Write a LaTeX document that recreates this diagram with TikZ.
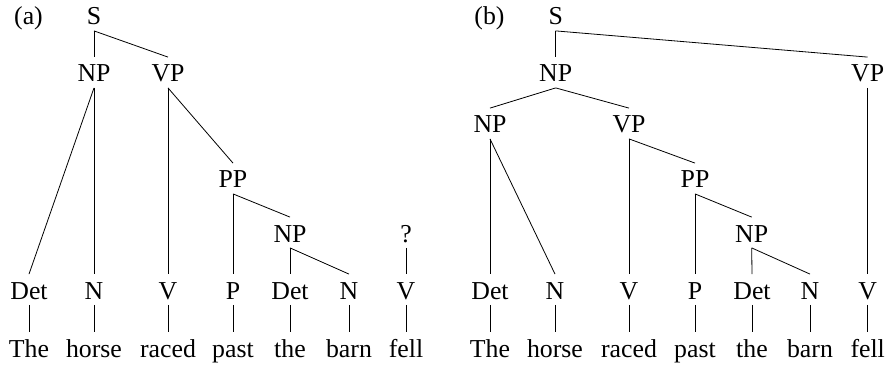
\documentclass[tikz,border=0pt]{standalone}
\usepackage{fontspec}
\setmainfont{Liberation Serif}
\usepackage{tikz}

\begin{document}
\begin{tikzpicture}[x=1pt,y=-1pt,line width=0.8pt,
  lab/.style={anchor=base,inner xsep=1pt,inner ysep=5.5pt,text height=19pt,text depth=0pt,
    font=\fontsize{25.8}{30}\selectfont}]
  \useasboundingbox (0,0) rectangle (886,366);
  % tree (a)
  \node[lab] (a-lbl) at (28.5,25) {(a)};
  \node[lab] (a-s) at (94,25) {S};
  \node[lab] (a-np) at (94,82) {NP};
  \node[lab] (a-vp) at (168,82) {VP};
  \node[lab] (a-pp) at (233,188) {PP};
  \node[lab] (a-np2) at (290,242) {NP};
  \node[lab] (a-q) at (406,242) {?};
  \foreach \x/\t/\w [count=\i] in {29/Det/The,94/N/horse,168/V/raced,233/P/past,290/Det/the,349/N/barn,406/V/fell}{
    \node[lab] (a-t\i) at (\x,299) {\t};
    \node[lab] (a-w\i) at (\x,357) {\w};
    \draw (a-t\i.south) -- (a-w\i.north);
  }
  \draw (a-s.south) -- (a-np.north); \draw (a-s.south) -- (a-vp.north);
  \draw (a-np.south) -- (a-t1.north); \draw (a-np.south) -- (a-t2.north);
  \draw (a-vp.south) -- (a-t3.north); \draw (a-vp.south) -- (a-pp.north);
  \draw (a-pp.south) -- (a-t4.north); \draw (a-pp.south) -- (a-np2.north);
  \draw (a-np2.south) -- (a-t5.north); \draw (a-np2.south) -- (a-t6.north);
  \draw (a-q.south) -- (a-t7.north);
  % tree (b)
  \node[lab] (b-lbl) at (489.5,25) {(b)};
  \node[lab] (b-s) at (555.7,25) {S};
  \node[lab] (b-np) at (555.7,82) {NP};
  \node[lab] (b-vp) at (867.7,82) {VP};
  \node[lab] (b-np2) at (490,133) {NP};
  \node[lab] (b-vp2) at (629,133) {VP};
  \node[lab] (b-pp) at (695,188) {PP};
  \node[lab] (b-np3) at (751.7,242) {NP};
  \foreach \x/\t/\w [count=\i] in {490/Det/The,555/N/horse,629/V/raced,695/P/past,752/Det/the,810/N/barn,867.7/V/fell}{
    \node[lab] (b-t\i) at (\x,299) {\t};
    \node[lab] (b-w\i) at (\x,357) {\w};
    \draw (b-t\i.south) -- (b-w\i.north);
  }
  \draw (b-s.south) -- (b-np.north); \draw (b-s.south) -- (b-vp.north);
  \draw (b-np.south) -- (b-np2.north); \draw (b-np.south) -- (b-vp2.north);
  \draw (b-np2.south) -- (b-t1.north); \draw (b-np2.south) -- (b-t2.north);
  \draw (b-vp2.south) -- (b-t3.north); \draw (b-vp2.south) -- (b-pp.north);
  \draw (b-pp.south) -- (b-t4.north); \draw (b-pp.south) -- (b-np3.north);
  \draw (b-np3.south) -- (b-t5.north); \draw (b-np3.south) -- (b-t6.north);
  \draw (b-vp.south) -- (b-t7.north);
\end{tikzpicture}
\end{document}
